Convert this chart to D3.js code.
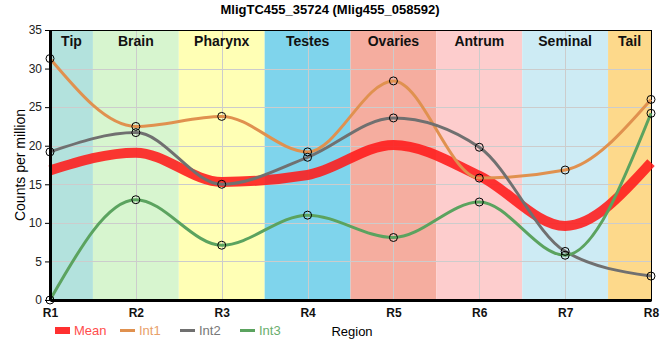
<!DOCTYPE html>
<html>
<head>
<meta charset="utf-8">
<script src="https://cdn.jsdelivr.net/npm/d3@7"></script>
<style>
  body { margin: 0; background: #fff; }
  svg { font-family: "Liberation Sans", Arial, sans-serif; }
</style>
</head>
<body>
<svg id="chart" width="660" height="360"></svg>
<script>
// data
const regions = ["R1", "R2", "R3", "R4", "R5", "R6", "R7", "R8"];
const bandNames = ["Tip", "Brain", "Pharynx", "Testes", "Ovaries", "Antrum", "Seminal", "Tail"];
const bandColors = ["#b3e2dd", "#d7f5cf", "#ffffb5", "#7fd4ec", "#f5ad9f", "#fdcdcd", "#cdebf4", "#fdd98b"];
const meanVals = [16.8, 19.1, 15.3, 16.2, 20.1, 16.1, 9.6, 17.8];
const int1Vals = [31.3, 22.5, 23.8, 19.2, 28.4, 15.8, 16.85, 26.0];
const int2Vals = [19.2, 21.7, 15.0, 18.5, 23.6, 19.8, 6.3, 3.1];
const int3Vals = [0, 13.0, 7.1, 11.0, 8.1, 12.7, 5.8, 24.2];
const yTicks = [0, 5, 10, 15, 20, 25, 30, 35];

const svg = d3.select("#chart");
const plotL = 50, plotR = 651, plotT = 30, plotB = 300;

const x = d3.scalePoint().domain(regions).range([plotL, plotR]);
const y = d3.scaleLinear().domain([0, 35]).range([plotB, plotT]);
const step = x.step();

// band edges: halfway between regions, clipped to the plot
const bandX0 = i => i === 0 ? plotL : x(regions[i]) - step / 2;
const bandX1 = i => i === regions.length - 1 ? plotR : x(regions[i]) + step / 2;

// 1) background bands
svg.append("g").selectAll("rect")
  .data(bandNames)
  .enter()
  .append("rect")
  .attr("x", (d, i) => bandX0(i))
  .attr("width", (d, i) => bandX1(i) - bandX0(i))
  .attr("y", plotT)
  .attr("height", plotB - plotT)
  .attr("fill", (d, i) => bandColors[i]);

// 2) grid
const grid = svg.append("g").attr("stroke", "#cccccc").attr("stroke-width", 1);
grid.selectAll(".hg").data(yTicks.slice(1, -1)).enter().append("line")
  .attr("x1", plotL).attr("x2", plotR)
  .attr("y1", d => Math.round(y(d)) + 0.5).attr("y2", d => Math.round(y(d)) + 0.5);
grid.selectAll(".vg").data(regions.slice(1, -1)).enter().append("line")
  .attr("x1", d => Math.round(x(d)) + 0.5).attr("x2", d => Math.round(x(d)) + 0.5)
  .attr("y1", plotT).attr("y2", plotB);

// band labels
svg.append("g").selectAll("text")
  .data(bandNames)
  .enter()
  .append("text")
  .attr("x", (d, i) => (bandX0(i) + bandX1(i)) / 2)
  .attr("y", 46)
  .attr("text-anchor", "middle")
  .attr("font-size", 14)
  .attr("font-weight", "bold")
  .attr("fill", "#111")
  .text(d => d);

// frame
svg.append("rect")
  .attr("x", plotL + 0.5).attr("y", plotT + 0.5)
  .attr("width", plotR - plotL).attr("height", plotB - plotT)
  .attr("fill", "none").attr("stroke", "#000").attr("stroke-width", 1);

// 3) lines
const line = d3.line()
  .x((d, i) => x(regions[i]))
  .y(d => y(d))
  .curve(d3.curveMonotoneX);

const series = [
  { name: "Mean", vals: meanVals, color: "#ff1a1a", width: 10, opacity: 0.88, dots: false },
  { name: "Int1", vals: int1Vals, color: "#e0914f", width: 3, opacity: 1, dots: true },
  { name: "Int2", vals: int2Vals, color: "#707070", width: 3, opacity: 1, dots: true },
  { name: "Int3", vals: int3Vals, color: "#5ba35f", width: 3, opacity: 1, dots: true }
];

series.forEach(s => {
  svg.append("path")
    .datum(s.vals)
    .attr("d", line)
    .attr("fill", "none")
    .attr("stroke", s.color)
    .attr("stroke-width", s.width)
    .attr("stroke-opacity", s.opacity);
});

series.filter(s => s.dots).forEach(s => {
  svg.append("g").selectAll("circle")
    .data(s.vals)
    .enter()
    .append("circle")
    .attr("cx", (d, i) => x(regions[i]))
    .attr("cy", d => y(d))
    .attr("r", 4)
    .attr("fill", "none")
    .attr("stroke", "#000")
    .attr("stroke-width", 1);
});

// 4) axes
const yAxis = svg.append("g")
  .attr("transform", `translate(${plotL},0)`)
  .call(d3.axisLeft(y).tickValues(yTicks).tickSize(5).tickSizeOuter(0));
yAxis.select(".domain").attr("stroke-width", 3);
yAxis.selectAll("text").attr("font-size", 12).attr("fill", "#222")
  .attr("font-family", "Liberation Sans, Arial, sans-serif");

const xAxis = svg.append("g")
  .attr("transform", `translate(0,${plotB})`)
  .call(d3.axisBottom(x).tickSize(0).tickSizeOuter(0));
xAxis.select(".domain").attr("stroke-width", 3);
xAxis.selectAll("text").attr("font-size", 12).attr("font-weight", "bold")
  .attr("fill", "#111").attr("dy", "1.2em")
  .attr("font-family", "Liberation Sans, Arial, sans-serif");

// titles
svg.append("text")
  .attr("x", 330).attr("y", 14)
  .attr("text-anchor", "middle")
  .attr("font-size", 13).attr("font-weight", "bold")
  .text("MligTC455_35724 (Mlig455_058592)");

svg.append("text")
  .attr("transform", `translate(25,${(plotT + plotB) / 2}) rotate(-90)`)
  .attr("text-anchor", "middle")
  .attr("font-size", 14)
  .text("Counts per million");

svg.append("text")
  .attr("x", 352).attr("y", 336)
  .attr("text-anchor", "middle")
  .attr("font-size", 13)
  .text("Region");

// 5) legend
const legend = svg.append("g");
const legX = [55, 120, 180, 240];
const legTextColors = ["#ff4d4d", "#e8a06a", "#777777", "#6aae6d"];
series.forEach((s, i) => {
  if (s.name === "Mean") {
    legend.append("rect")
      .attr("x", legX[i]).attr("y", 327)
      .attr("width", 15).attr("height", 7)
      .attr("fill", s.color).attr("opacity", 0.9);
  } else {
    legend.append("line")
      .attr("x1", legX[i]).attr("x2", legX[i] + 15)
      .attr("y1", 330.5).attr("y2", 330.5)
      .attr("stroke", s.color).attr("stroke-width", 3);
  }
  legend.append("text")
    .attr("x", legX[i] + 19).attr("y", 335)
    .attr("font-size", 13)
    .attr("fill", legTextColors[i])
    .text(s.name);
});
</script>
</body>
</html>
